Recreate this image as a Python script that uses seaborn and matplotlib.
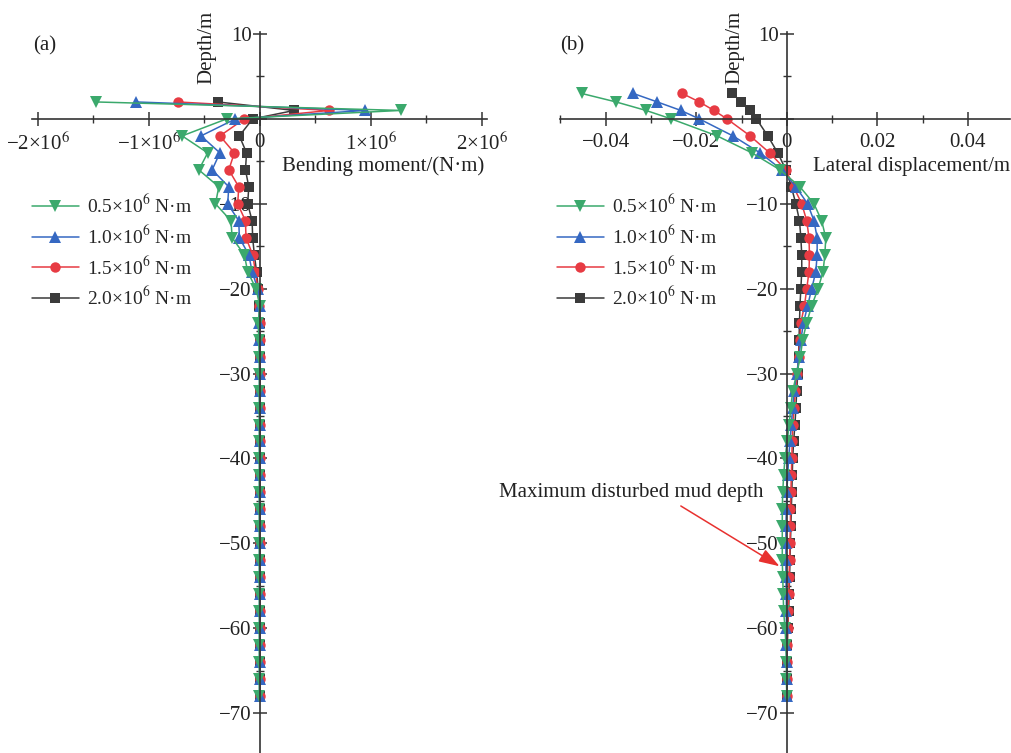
import numpy as np
import pandas as pd
import matplotlib
matplotlib.use("Agg")
import matplotlib.pyplot as plt
from matplotlib.lines import Line2D
from matplotlib.ticker import FixedLocator, FixedFormatter
import seaborn as sns

# ---- data ----
# (a) bending moment, in units of 1e6 N*m
depth_a = [2, 1, 0, -2, -4, -6, -8, -10, -12, -14, -16, -18, -20, -22, -24,
           -26, -28, -30, -32, -34, -36, -38, -40, -42, -44, -46, -48, -50,
           -52, -54, -56, -58, -60, -62, -64, -66, -68]
moment_05 = [-1.48, 1.27, -0.30, -0.70, -0.47, -0.55, -0.37, -0.40, -0.26, -0.25,
             -0.14, -0.11, -0.035, 0.0, -0.015, -0.01, -0.005, -0.005, -0.005, -0.005,
             -0.005, -0.005, -0.005, -0.005, -0.005, -0.005, -0.005, -0.005, -0.005,
             -0.005, -0.005, -0.005, -0.005, -0.005, -0.005, -0.005, -0.005]
moment_10 = [-1.115, 0.95, -0.22, -0.53, -0.36, -0.43, -0.28, -0.29, -0.19, -0.185,
             -0.10, -0.07, -0.02, 0.0, -0.01, -0.005, -0.003, -0.003, -0.003, -0.003,
             -0.003, -0.003, -0.003, -0.003, -0.003, -0.003, -0.003, -0.003, -0.003,
             -0.003, -0.003, -0.003, -0.003, -0.003, -0.003, -0.003, -0.003]
moment_15 = [-0.74, 0.625, -0.14, -0.36, -0.23, -0.28, -0.19, -0.20, -0.13, -0.125,
             -0.065, -0.04, -0.02, -0.005, -0.003, 0.0, 0.0, 0.0, 0.0, 0.0,
             0.0, 0.0, 0.0, 0.0, 0.0, 0.0, 0.0, 0.0, 0.0,
             0.0, 0.0, 0.0, 0.0, 0.0, 0.0, 0.0, 0.0]
moment_20 = [-0.38, 0.31, -0.065, -0.185, -0.12, -0.13, -0.10, -0.11, -0.07, -0.065,
             -0.05, -0.03, -0.015, -0.005, 0.0, 0.0, 0.0, 0.0, 0.0, 0.0,
             0.0, 0.0, 0.0, 0.0, 0.0, 0.0, 0.0, 0.0, 0.0,
             0.0, 0.0, 0.0, 0.0, 0.0, 0.0, 0.0, 0.0]

# (b) lateral displacement, m
depth_b = [3, 2, 1, 0, -2, -4, -6, -8, -10, -12, -14, -16, -18, -20, -22, -24,
           -26, -28, -30, -32, -34, -36, -38, -40, -42, -44, -46, -48, -50,
           -52, -54, -56, -58, -60, -62, -64, -66, -68]
disp_05 = [-0.0453, -0.0377, -0.0311, -0.0255, -0.0154, -0.0077, -0.0015, 0.0029,
           0.0060, 0.0077, 0.0086, 0.0084, 0.0080, 0.0069, 0.0055, 0.0044, 0.0035,
           0.0030, 0.0022, 0.0013, 0.0009, 0.0005, 0.0001, -0.0004, -0.0007, -0.0009,
           -0.0010, -0.0010, -0.0010, -0.0010, -0.0009, -0.0008, -0.0007, -0.0004,
           -0.0002, -0.0001, -0.0001, 0.0000]
disp_10 = [-0.0339, -0.0286, -0.0234, -0.0193, -0.0119, -0.0059, -0.0011, 0.0020,
           0.0046, 0.0060, 0.0067, 0.0067, 0.0064, 0.0055, 0.0046, 0.0037, 0.0031,
           0.0027, 0.0022, 0.0016, 0.0013, 0.0010, 0.0007, 0.0004, 0.0002, 0.0000,
           -0.0001, -0.0002, -0.0002, -0.0002, -0.0002, -0.0001, -0.0001, -0.0001,
           -0.0001, 0.0000, 0.0000, 0.0000]
disp_15 = [-0.0231, -0.0193, -0.0161, -0.0132, -0.0081, -0.0038, -0.0002, 0.0015,
           0.0033, 0.0044, 0.0049, 0.0050, 0.0049, 0.0044, 0.0039, 0.0031, 0.0029,
           0.0026, 0.0023, 0.0019, 0.0016, 0.0013, 0.0012, 0.0011, 0.0010, 0.0009,
           0.0008, 0.0008, 0.0007, 0.0006, 0.0005, 0.0004, 0.0003, 0.0002,
           0.0001, 0.0000, 0.0000, 0.0000]
disp_20 = [-0.0120, -0.0101, -0.0082, -0.0067, -0.0042, -0.0020, -0.0002, 0.0010,
           0.0020, 0.0028, 0.0031, 0.0033, 0.0033, 0.0031, 0.0029, 0.0028, 0.0027,
           0.0026, 0.0024, 0.0022, 0.0020, 0.0018, 0.0015, 0.0013, 0.0012, 0.0011,
           0.0010, 0.0009, 0.0008, 0.0007, 0.0006, 0.0005, 0.0004, 0.0002,
           0.0001, 0.0000, 0.0000, 0.0000]

load_labels = ['0.5×10$^{6}$ N·m', '1.0×10$^{6}$ N·m',
               '1.5×10$^{6}$ N·m', '2.0×10$^{6}$ N·m']
colors = ['#3ba96c', '#3568c2', '#e73b43', '#3b3b3b']
markers = ['v', '^', 'o', 's']
msizes = [8.5, 8.5, 7.5, 7]

moments = [moment_05, moment_10, moment_15, moment_20]
disps = [disp_05, disp_10, disp_15, disp_20]

# ---- style ----
sns.set_style('ticks')
plt.rcParams['font.family'] = ['Liberation Serif', 'DejaVu Serif']
plt.rcParams['mathtext.fontset'] = 'stix'
plt.rcParams['font.size'] = 14
plt.rcParams['axes.unicode_minus'] = True

fig = plt.figure(figsize=(10.11, 7.53), dpi=100)
W, H = 1011, 753
ax_a = fig.add_axes([32 / W, 0, 455 / W, 721 / H])
ax_b = fig.add_axes([560 / W, 0, 450 / W, 721 / H])

axis_color = '#333333'


def style_axis(ax):
    for side in ['top', 'right']:
        ax.spines[side].set_visible(False)
    for side in ['left', 'bottom']:
        ax.spines[side].set_position(('data', 0))
        ax.spines[side].set_color(axis_color)
        ax.spines[side].set_linewidth(1.2)
    ax.set_facecolor('none')
    ax.tick_params(which='major', direction='inout', length=10, width=1.1,
                   color=axis_color, labelsize=15, labelcolor='#222222')
    ax.tick_params(which='minor', direction='inout', length=6, width=1.0,
                   color=axis_color)
    ax.tick_params(axis='x', pad=5)
    ax.tick_params(axis='y', pad=1)
    yt = [10, 0, -10, -20, -30, -40, -50, -60, -70]
    ax.yaxis.set_major_locator(FixedLocator(yt))
    ax.yaxis.set_major_formatter(FixedFormatter(
        ['' if v == 0 else str(v).replace('-', '\u2212') for v in yt]))
    ax.yaxis.set_minor_locator(FixedLocator([5, -5, -15, -25, -35, -45, -55, -65]))
    ax.set_ylim(-74.7, 10.24)
    ax.set_xlabel('')
    ax.set_ylabel('')


# draw black first so green ends up on top
for i in [3, 2, 1, 0]:
    df = pd.DataFrame({'depth': depth_a, 'moment': np.array(moments[i]) * 1e6})
    sns.lineplot(data=df, x='moment', y='depth', sort=False, estimator=None,
                 color=colors[i], marker=markers[i], markersize=msizes[i],
                 markeredgewidth=0, linewidth=1.1, ax=ax_a, legend=False)
    df = pd.DataFrame({'depth': depth_b, 'disp': disps[i]})
    sns.lineplot(data=df, x='disp', y='depth', sort=False, estimator=None,
                 color=colors[i], marker=markers[i], markersize=msizes[i],
                 markeredgewidth=0, linewidth=1.1, ax=ax_b, legend=False)

style_axis(ax_a)
style_axis(ax_b)

ax_a.set_xlim(-2.052e6, 2.045e6)
ax_a.xaxis.set_major_locator(FixedLocator([-2e6, -1e6, 0, 1e6, 2e6]))
ax_a.xaxis.set_major_formatter(FixedFormatter(
    ['\u22122×10$^{6}$', '\u22121×10$^{6}$', '0', '1×10$^{6}$', '2×10$^{6}$']))
ax_a.xaxis.set_minor_locator(FixedLocator([-1.5e6, -0.5e6, 0.5e6, 1.5e6]))

ax_b.set_xlim(-0.05008, 0.04928)
ax_b.xaxis.set_major_locator(FixedLocator([-0.04, -0.02, 0, 0.02, 0.04]))
ax_b.xaxis.set_major_formatter(FixedFormatter(
    ['\u22120.04', '\u22120.02', '0', '0.02', '0.04']))
ax_b.xaxis.set_minor_locator(FixedLocator([-0.05, -0.03, -0.01, 0.01, 0.03]))

# axis titles and panel tags
fig.text(207 / W, 1 - 84 / H, 'Depth/m', rotation=90, ha='center', va='bottom',
         fontsize=15, color='#222222')
fig.text(735 / W, 1 - 84 / H, 'Depth/m', rotation=90, ha='center', va='bottom',
         fontsize=15, color='#222222')
fig.text(484 / W, 1 - 166 / H, 'Bending moment/(N·m)', ha='right', va='center',
         fontsize=15, color='#222222')
fig.text(1010 / W, 1 - 166 / H, 'Lateral displacement/m', ha='right', va='center',
         fontsize=15, color='#222222')
fig.text(33 / W, 1 - 46 / H, '(a)', ha='left', va='center', fontsize=15,
         color='#222222')
fig.text(560 / W, 1 - 46 / H, '(b)', ha='left', va='center', fontsize=15,
         color='#222222')

# legends
handles = [Line2D([], [], color=colors[i], marker=markers[i], markersize=msizes[i],
                  markeredgewidth=0, linewidth=1.1) for i in range(4)]
for ax, x0 in [(ax_a, 32), (ax_b, 557)]:
    ax.legend(handles, load_labels, loc='upper left',
              bbox_to_anchor=(x0 / W, 1 - 194 / H), bbox_transform=fig.transFigure,
              frameon=False, fontsize=14, borderpad=0, borderaxespad=0,
              handlelength=2.4, handletextpad=0.45, labelspacing=0.43)

# annotation on panel (b)
ax_b.text(-0.0344, -44.0, 'Maximum disturbed mud depth', ha='center', va='center',
          fontsize=15, color='#222222')
ax_b.annotate('', xy=(-0.0016, -52.7), xytext=(-0.0234, -45.6),
              arrowprops=dict(arrowstyle='-|>,head_length=0.9,head_width=0.3',
                              color='#e8312f', lw=1.1, shrinkA=0, shrinkB=0))

fig.savefig('out.png', dpi=100)
